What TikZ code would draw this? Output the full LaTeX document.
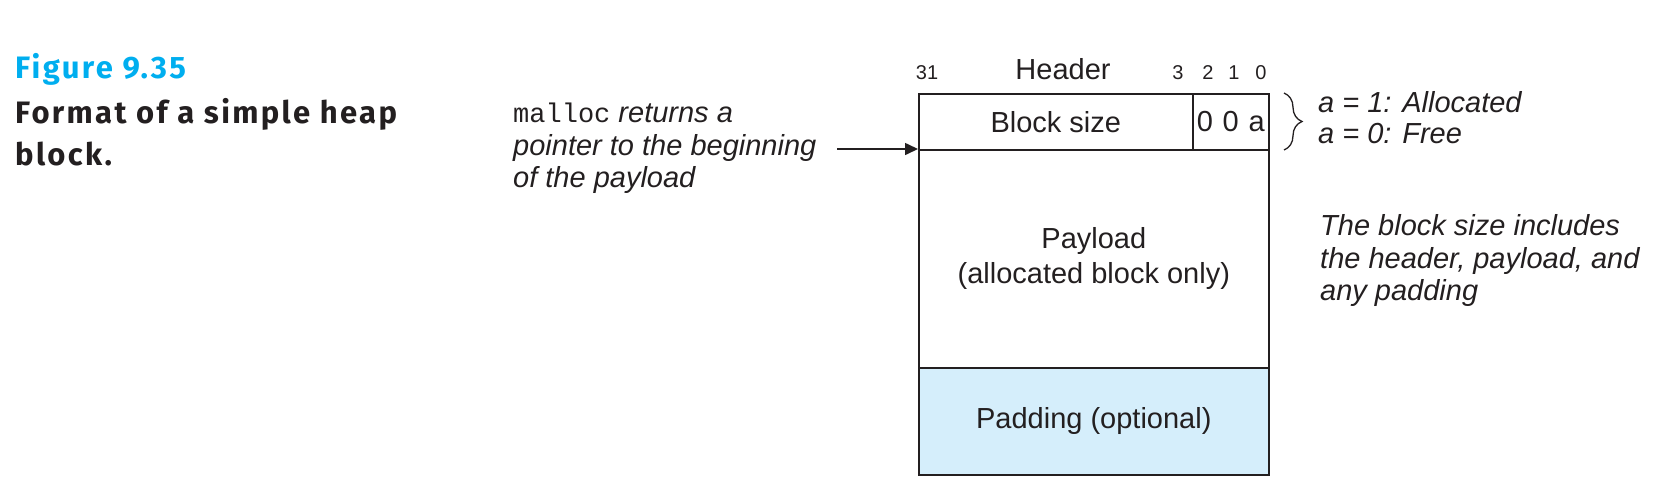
\documentclass[tikz,border=0pt]{standalone}
\usepackage{fontspec}
\setmainfont{Liberation Sans}
\setmonofont{Liberation Mono}
\newfontfamily\capfont{Fira Sans}[LetterSpace=7.5]
\usetikzlibrary{arrows.meta,decorations.pathreplacing}
\definecolor{figblue}{RGB}{0,174,239}
\definecolor{padblue}{RGB}{213,238,251}
\definecolor{ink}{RGB}{35,31,32}
\begin{document}
\begin{tikzpicture}[x=1pt,y=-1pt,
  cell/.style={draw=ink, line width=1.6pt, inner sep=0pt, anchor=north west,
    font=\fontsize{29}{35}\selectfont, text=ink, align=center},
  lbl/.style={font=\fontsize{29}{33}\selectfont, text=ink, inner sep=0pt, anchor=base},
  note/.style={font=\fontsize{29}{32.5}\selectfont\itshape, text=ink, inner sep=0pt,
    anchor=base west},
  bit/.style={font=\fontsize{20}{24}\selectfont, text=ink, inner sep=0pt, anchor=base},
  title/.style={font=\capfont\bfseries\fontsize{31}{42}\selectfont, inner sep=0pt,
    anchor=base west}]
\useasboundingbox (0,0) rectangle (1663,488);

% caption
\node[title, text=figblue] (fignum) at (15,78) {Figure 9.35};
\node[title, text=ink] (figtitleA) at (15,123) {Format of a simple heap};
\node[title, text=ink] (figtitleB) at (15,165) {block.};

% block cells
\node[cell, minimum width=274pt, minimum height=56pt] (bsize) at (918,93) {Block size};
\node[cell, minimum width=76pt, minimum height=56pt] (flags) at (1192,93) {0\,\,0\,\,a};
\node[cell, minimum width=350pt, minimum height=218pt] (payload) at (918,149)
  {Payload\\(allocated block only)};
\node[cell, fill=padblue, minimum width=350pt, minimum height=107pt] (padding) at (918,367)
  {Padding (optional)};

% bit labels
\node[bit] (b31) at (927,79) {31};
\node[lbl] (hdr) at (1063,79) {Header};
\node[bit] (b3) at (1178,79) {3};
\node[bit] (b2) at (1208,79) {2};
\node[bit] (b1) at (1234,79) {1};
\node[bit] (b0) at (1261,79) {0};

% brace and flag meaning
\coordinate (bracetop) at (1284,93);
\coordinate (bracebot) at (1284,150);
\draw[ink, line width=1.3pt, decorate, decoration={brace, amplitude=18pt}] (bracetop) -- (bracebot);
\node[note] (allocA) at (1318,112) {a = 1: Allocated};
\node[note] (allocB) at (1318,143) {a = 0: Free};

% size note
\node[note] (sizeA) at (1320,235) {The block size includes};
\node[note] (sizeB) at (1320,268) {the header, payload, and};
\node[note] (sizeC) at (1320,300) {any padding};

% malloc note and pointer
\node[note] (mallocA) at (513,122)
  {{\upshape\fontsize{27}{32.5}\selectfont\ttfamily malloc} returns a};
\node[note] (mallocB) at (513,155) {pointer to the beginning};
\node[note] (mallocC) at (513,187) {of the payload};
\coordinate (ptr) at (837,149);
\draw[ink, line width=1.6pt, -{Triangle[length=13pt,width=12pt]}] (ptr) -- (payload.north west);
\end{tikzpicture}
\end{document}
